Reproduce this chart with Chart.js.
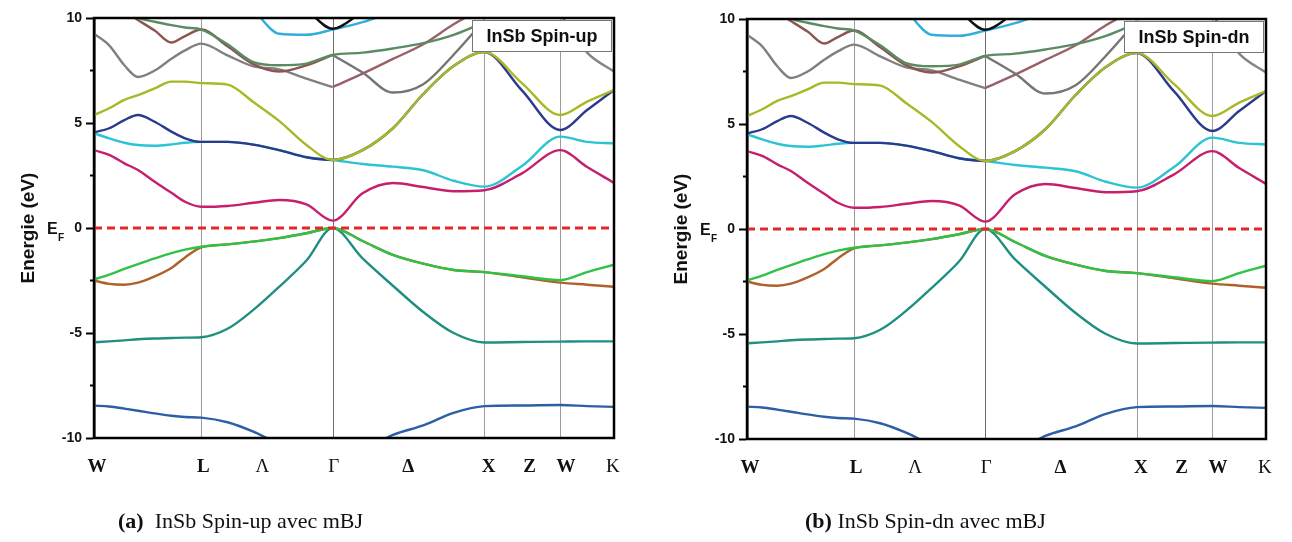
<!DOCTYPE html>
<html>
<head>
<meta charset="utf-8">
<title>InSb band structure</title>
<script src="https://cdn.jsdelivr.net/npm/chart.js@4.4.1/dist/chart.umd.min.js"></script>
<style>
  body { margin: 0; background: #fff; width: 1292px; height: 542px; position: relative; overflow: hidden; }
  .panel { position: absolute; top: 0; height: 542px; }
  .caption { position: absolute; top: 508px; font-family: "Liberation Serif", "Times New Roman", serif; font-size: 22px; color: #111; white-space: nowrap; }
</style>
</head>
<body>
<div class="panel" style="left:0;width:646px"><canvas id="bands-up"></canvas></div>
<div class="panel" style="left:653px;width:639px"><canvas id="bands-dn"></canvas></div>
<div class="caption" style="left:118px"><b>(a)</b>&nbsp; InSb Spin-up avec mBJ</div>
<div class="caption" style="left:805px"><b>(b)</b> InSb Spin-dn avec mBJ</div>

<script>
// k-path W-L-Γ-X-W-K (distance in 2π/a)
const kPoints = [0, 0.1, 0.2, 0.29, 0.4, 0.51, 0.6, 0.707, 0.88, 1.05, 1.22, 1.40, 1.573,
                 1.77, 1.97, 2.17, 2.37, 2.573, 2.82, 3.073, 3.25, 3.427];
const symPoints = [0.707, 1.573, 2.573, 3.073];          // L, Γ, X, W
const kTickLabels = ['W', 'L', 'Λ', 'Γ', 'Δ', 'X', 'Z', 'W', 'K'];
const kTickAt = [0.02, 0.72, 1.11, 1.58, 2.07, 2.6, 2.87, 3.11, 3.42];
const kTickBold = [true, true, false, false, true, true, true, true, false];
const minorTicks = [7.5, 2.5, -2.5, -7.5];

// band energies (eV) at kPoints, null where the band is off the plotted window
const bandS      = [-8.46, -8.5, -8.6, -8.7, -8.83, -8.94, -9.0, -9.03, -9.25, -9.7, -10.3, -10.8, -11.0, -10.6, -9.85, -9.4, -8.8, -8.48, -8.45, -8.43, -8.48, -8.52];
const bandLH     = [-5.44, -5.4, -5.35, -5.3, -5.26, -5.24, -5.22, -5.2, -4.8, -3.9, -2.8, -1.55, 0, -1.45, -2.75, -4.0, -5.0, -5.45, -5.43, -5.41, -5.4, -5.4];
const bandHH     = [-2.45, -2.22, -1.95, -1.72, -1.45, -1.2, -1.03, -0.89, -0.78, -0.65, -0.48, -0.25, 0, -0.62, -1.28, -1.7, -2.0, -2.1, -2.3, -2.48, -2.1, -1.75];
const bandHH2    = [-2.5, -2.66, -2.7, -2.6, -2.3, -1.9, -1.4, -0.92, -0.78, -0.65, -0.48, -0.25, 0, -0.62, -1.28, -1.7, -2.0, -2.1, -2.35, -2.6, -2.7, -2.8];
const bandCB     = [3.71, 3.48, 3.08, 2.76, 2.2, 1.68, 1.25, 1.01, 1.05, 1.2, 1.33, 1.12, 0.35, 1.65, 2.14, 1.95, 1.75, 1.8, 2.6, 3.71, 2.9, 2.15];
const bandCyan   = [4.51, 4.27, 4.06, 3.95, 3.92, 3.98, 4.06, 4.1, 4.1, 3.97, 3.71, 3.37, 3.24, 3.05, 2.92, 2.75, 2.25, 1.97, 2.95, 4.35, 4.1, 4.03];
const bandBlue   = [4.55, 4.75, 5.14, 5.38, 5.06, 4.59, 4.27, 4.1, 4.1, 3.97, 3.71, 3.37, 3.24, 3.71, 4.75, 6.38, 7.71, 8.38, 6.55, 4.67, 5.62, 6.57];
const bandYellow = [5.38, 5.7, 6.1, 6.33, 6.65, 6.97, 6.97, 6.9, 6.83, 6.0, 5.1, 3.95, 3.24, 3.71, 4.75, 6.38, 7.71, 8.38, 6.9, 5.38, 6.02, 6.57];
const bandGrayA  = [9.25, 8.7, 7.75, 7.19, 7.5, 8.06, 8.46, 8.78, 8.22, 7.7, 7.55, 7.11, 6.71, null, null, null, null, null, null, null, null, null];
const bandGreenB = [11.2, 10.8, 10.4, 10.02, 9.82, 9.66, 9.55, 9.45, 8.75, 7.9, 7.75, 7.83, 8.24, 8.35, 8.55, 8.8, 9.2, 9.8, null, null, null, null];
const bandBrownC = [11.0, 10.7, 10.3, 9.9, 9.4, 8.83, 9.14, 9.45, 8.65, 7.8, 7.45, 7.75, 8.24, null, null, null, null, null, null, null, null, null];
const bandGrayD  = [null, null, null, null, null, null, null, null, null, null, null, null, 8.24, 7.4, 6.45, 6.85, 8.25, 9.9, null, null, null, null];
const bandBrownE = [null, null, null, null, null, null, null, null, null, null, null, null, 6.71, 7.35, 8.05, 8.75, 9.7, 10.5, null, null, null, null];
const bandCyan2  = [null, null, null, null, null, null, null, null, null, 10.4, 9.25, 9.2, 9.45, 9.8, 10.3, null, null, null, null, null, null, null];
const bandBlack  = [null, null, null, null, null, null, null, null, null, null, null, 10.4, 9.49, 10.3, null, null, null, null, null, null, null, null];
const bandGrayF  = [null, null, null, null, null, null, null, null, null, null, null, null, null, null, null, null, null, null, null, 10.2, 8.35, 7.45];

// first entry ends up on top
const bands = [
  { values: bandHH,     color: '#2fc246' },
  { values: bandHH2,    color: '#b0602a' },
  { values: bandLH,     color: '#1f8f80' },
  { values: bandS,      color: '#2d5fa6' },
  { values: bandCB,     color: '#c51f6e' },
  { values: bandYellow, color: '#a9b826' },
  { values: bandBlue,   color: '#2b3a8a' },
  { values: bandCyan,   color: '#2cc3d3' },
  { values: bandBlack,  color: '#111111' },
  { values: bandCyan2,  color: '#33aedc' },
  { values: bandGreenB, color: '#5a8c64' },
  { values: bandBrownC, color: '#8c5550' },
  { values: bandGrayA,  color: '#808080' },
  { values: bandGrayD,  color: '#757575' },
  { values: bandBrownE, color: '#99606a' },
  { values: bandGrayF,  color: '#858585' }
];

const bandDecor = {
  id: 'bandDecor',
  beforeDatasetsDraw(chart) {
    const { ctx, chartArea: a, scales: { x } } = chart;
    ctx.save();
    ctx.lineWidth = 1;
    symPoints.forEach((k, i) => {
      const px = Math.round(x.getPixelForValue(k)) + 0.5;
      ctx.strokeStyle = i === 1 ? '#6e6e6e' : '#9c9c9c';
      ctx.beginPath();
      ctx.moveTo(px, a.top);
      ctx.lineTo(px, a.bottom);
      ctx.stroke();
    });
    ctx.restore();
  },
  afterDatasetsDraw(chart, args, opts) {
    const { ctx, chartArea: a, scales: { y } } = chart;
    ctx.save();
    // spin label box
    ctx.fillStyle = '#fff';
    ctx.fillRect(a.right - 142, a.top + 2, 140, 32);
    ctx.strokeStyle = '#777';
    ctx.lineWidth = 1;
    ctx.strokeRect(a.right - 141.5, a.top + 2.5, 139, 31);
    ctx.fillStyle = '#111';
    ctx.font = 'bold 18px "Liberation Sans", Arial, sans-serif';
    ctx.textAlign = 'center';
    ctx.textBaseline = 'middle';
    ctx.fillText(opts.tag, a.right - 72, a.top + 19);
    // frame
    ctx.strokeStyle = '#000';
    ctx.lineWidth = 2.5;
    ctx.strokeRect(a.left, a.top, a.right - a.left, a.bottom - a.top);
    // minor ticks
    ctx.lineWidth = 2;
    minorTicks.forEach(v => {
      const py = y.getPixelForValue(v);
      ctx.beginPath();
      ctx.moveTo(a.left - 4, py);
      ctx.lineTo(a.left, py);
      ctx.stroke();
    });
    // Fermi level label
    const p0 = y.getPixelForValue(0);
    ctx.textAlign = 'left';
    ctx.textBaseline = 'alphabetic';
    ctx.font = 'bold 16px "Liberation Sans", Arial, sans-serif';
    ctx.fillText('E', a.left - 47, p0 + 6);
    ctx.font = 'bold 10px "Liberation Sans", Arial, sans-serif';
    ctx.fillText('F', a.left - 36, p0 + 13);
    ctx.restore();
  }
};

function makeBandChart(canvasId, tag, pad, axisHeight) {
  const ctx = document.getElementById(canvasId).getContext('2d');
  const kEnd = kPoints[kPoints.length - 1];

  const datasets = [{
    data: [{ x: 0, y: 0 }, { x: kEnd, y: 0 }],
    borderColor: '#e3282c',
    borderWidth: 3,
    borderDash: [8, 5],
    pointRadius: 0
  }];
  bands.forEach(b => {
    datasets.push({
      data: kPoints.map((k, i) => ({ x: k, y: b.values[i] })),
      borderColor: b.color,
      borderWidth: 2.4,
      pointRadius: 0,
      cubicInterpolationMode: 'monotone',
      spanGaps: false,
      clip: 0
    });
  });

  return new Chart(ctx, {
    type: 'line',
    data: { datasets: datasets },
    plugins: [bandDecor],
    options: {
      responsive: true,
      maintainAspectRatio: false,
      animation: false,
      layout: { padding: pad },
      plugins: {
        legend: { display: false },
        tooltip: { enabled: false },
        bandDecor: { tag: tag }
      },
      scales: {
        x: {
          type: 'linear',
          min: 0,
          max: kEnd,
          afterFit: s => { s.height = axisHeight; },
          afterBuildTicks: s => { s.ticks = kTickAt.map(v => ({ value: v })); },
          grid: { display: false, drawTicks: false },
          border: { display: false },
          ticks: {
            autoSkip: false,
            maxRotation: 0,
            padding: 18,
            color: '#111',
            font: c => ({ family: '"Liberation Serif", "Times New Roman", serif', size: 19, weight: kTickBold[c.index] ? 'bold' : 'normal' }),
            callback: (v, i) => kTickLabels[i]
          }
        },
        y: {
          min: -10,
          max: 10,
          afterFit: s => { s.width = 94; },
          ticks: {
            stepSize: 5,
            padding: 4,
            color: '#111',
            font: { family: '"Liberation Sans", Arial, sans-serif', size: 14, weight: 'bold' }
          },
          grid: { drawOnChartArea: false, tickLength: 8, tickWidth: 2, tickColor: '#000' },
          border: { display: true, color: '#000', width: 2.5 },
          title: {
            display: true,
            text: 'Energie (eV)',
            color: '#111',
            font: { family: '"Liberation Sans", Arial, sans-serif', size: 19, weight: 'bold' },
            padding: { top: 17, bottom: 0 }
          }
        }
      }
    }
  });
}

makeBandChart('bands-up', 'InSb Spin-up', { top: 18, right: 32, left: 0, bottom: 0 }, 104);
makeBandChart('bands-dn', 'InSb Spin-dn', { top: 19, right: 26, left: 0, bottom: 0 }, 103);
</script>
</body>
</html>
